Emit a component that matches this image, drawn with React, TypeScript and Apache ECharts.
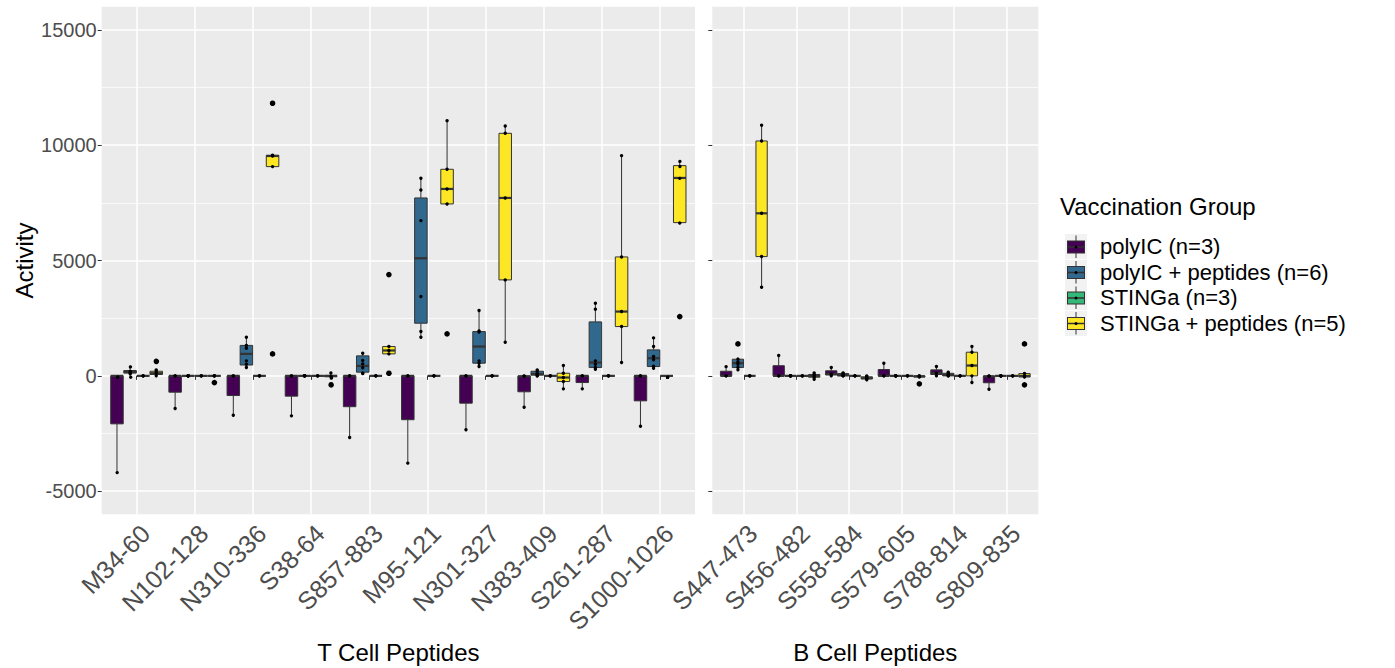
import React, { useEffect, useRef } from "react";
import * as echarts from "echarts";

// ---------- data ----------
const tCellPeptides = ["M34-60", "N102-128", "N310-336", "S38-64", "S857-883", "M95-121", "N301-327", "N383-409", "S261-287", "S1000-1026"];
const bCellPeptides = ["S447-473", "S456-482", "S558-584", "S579-605", "S788-814", "S809-835"];
const groupNames = ["polyIC (n=3)", "polyIC + peptides (n=6)", "STINGa (n=3)", "STINGa + peptides (n=5)"];
const yTicks = [-5000, 0, 5000, 10000, 15000];

// box stats [min, q1, median, q3, max]; rows: 10 T cell peptides then 6 B cell peptides
const polyICBox = [
  [-4160, -2080, 0, 0, 0], [-1415, -708, 0, 0, 0], [-1704, -852, 0, 0, 0], [-1733, -880, 0, 0, 0], [-2672, -1336, 0, 0, 0],
  [-3783, -1900, 0, 0, 0], [-2339, -1184, 0, 0, 0], [-1357, -690, -20, -10, 0], [-563, -289, 0, 0, 0], [-2181, -1083, 0, 0, 0],
  [0, 0, 0, 200, 400], [0, 0, 0, 440, 881], [0, 40, 80, 220, 361], [0, 0, 0, 275, 549], [0, 60, 120, 260, 404], [-578, -299, -20, -10, 0],
];
const polyICPoints = [
  [-4160, 0, 0], [-1415, 0, 0], [-1704, 0, 0], [-1733, 0, 0], [-2672, 0, 0],
  [-3783, 0, 0], [-2339, 0, 0], [-1357, -20, 0], [-563, 0, 0], [-2181, 0, 0],
  [0, 0, 400], [0, 0, 881], [0, 80, 361], [0, 0, 549], [0, 120, 404], [-578, -20, 0],
];
const polyICOutliers = [[], [], [], [], [], [], [], [], [], [], [], [], [], [], [], []];

const polyICPepBox = [
  [0, 120, 180, 230, 433], [0, 0, 0, 0, 0], [361, 470, 953, 1320, 1675], [0, 0, 0, 0, 0], [100, 160, 433, 867, 983],
  [1675, 2282, 5097, 7711, 8563], [404, 549, 1271, 1920, 2830], [0, 30, 80, 200, 260], [289, 361, 578, 2339, 3148], [332, 404, 765, 1126, 1646],
  [260, 361, 549, 722, 800], [0, 0, 0, 0, 0], [0, 0, 30, 100, 130], [0, 0, 0, 0, 0], [0, 0, 40, 110, 160], [0, 0, 0, 0, 0],
];
const polyICPepPoints = [
  [0, 120, 160, 200, 230, 433], [0, 0, 0, 0, 0, 0], [361, 500, 650, 1199, 1314, 1675], [0, 0, 0, 0, 0, 0], [100, 115, 350, 520, 664, 983],
  [1675, 1920, 3437, 6729, 8058, 8563], [404, 549, 650, 1900, 1950, 2830], [0, 0, 60, 100, 200, 260], [289, 361, 500, 650, 2888, 3148], [332, 420, 700, 838, 1271, 1646],
  [260, 361, 500, 600, 722, 1386], [0, 0, 0, 0, 0, 0], [0, 0, 20, 40, 100, 130], [0, 0, 0, 0, 0, 0], [0, 0, 30, 50, 110, 160], [0, 0, 0, 0, 0, 0],
];
const polyICPepOutliers = [[], [], [], [], [], [], [], [], [], [], [1386], [], [], [], [], []];

const stingaBox = [
  [0, 0, 0, 0, 0], [0, 0, 0, 0, 0], [0, 0, 0, 0, 0], [0, 0, 0, 0, 0], [0, 0, 0, 0, 0],
  [0, 0, 0, 0, 0], [0, 0, 0, 0, 0], [0, 0, 0, 0, 0], [0, 0, 0, 0, 0], [0, 0, 0, 0, 0],
  [0, 0, 0, 0, 0], [0, 0, 0, 0, 0], [0, 0, 0, 0, 0], [0, 0, 0, 0, 0], [0, 0, 0, 0, 0], [0, 0, 0, 0, 0],
];
const stingaPoints = [
  [0, 0, 0], [0, 0, 0], [0, 0, 0], [0, 0, 0], [0, 0, 0],
  [0, 0, 0], [0, 0, 0], [0, 0, 0], [0, 0, 0], [0, 0, 0],
  [0, 0, 0], [0, 0, 0], [0, 0, 0], [0, 0, 0], [0, 0, 0], [0, 0, 0],
];
const stingaOutliers = [[], [], [], [], [], [], [], [], [], [], [], [], [], [], [], []];

const stingaPepBox = [
  [0, 60, 115, 200, 260], [0, 0, 0, 0, 0], [9069, 9069, 9530, 9560, 9560], [-60, -40, 0, 20, 160], [953, 953, 1100, 1271, 1271],
  [7451, 7451, 8101, 8953, 11061], [1458, 4159, 7711, 10512, 10830], [-563, -245, -72, 115, 448], [578, 2137, 2787, 5155, 9545], [6642, 6642, 8578, 9112, 9328],
  [3842, 5170, 7046, 10180, 10859], [-144, -60, 0, 60, 130], [-170, -130, -100, -40, 0], [-80, -50, -20, 0, 0], [-289, 0, 448, 1025, 1271], [-72, -50, 0, 100, 115],
];
const stingaPepPoints = [
  [0, 115, 200, 260, 663], [-290, 0, 0, 0, 0], [953, 9069, 9530, 9560, 11816], [-330, -40, 0, 20, 160], [115, 953, 1100, 1271, 4390],
  [1820, 7451, 8101, 8953, 11061], [1458, 4159, 7711, 10512, 10830], [-563, -245, -72, 115, 448], [578, 2137, 2787, 5155, 9545], [2570, 6642, 8578, 9112, 9328],
  [3842, 5170, 7046, 10180, 10859], [-144, -60, 0, 60, 130], [-170, -130, -100, -40, 0], [-347, -50, -20, 0, 0], [-289, 0, 448, 1025, 1271], [-390, -50, 0, 100, 1386],
];
const stingaPepOutliers = [[663], [-290], [953, 11816], [-330], [4390, 115], [1820], [], [], [], [2570], [], [], [], [-347], [], [1386, -390]];

// ---------- styling ----------
const groupColors = ["#440154", "#31688E", "#35B779", "#FDE725"];
const dodge = [-0.3375, -0.1125, 0.1125, 0.3375];
const FONT = "'Liberation Sans', Arial, Helvetica, sans-serif";
const PANEL_BG = "#EBEBEB";

const groups = [
  { box: polyICBox, points: polyICPoints, outliers: polyICOutliers },
  { box: polyICPepBox, points: polyICPepPoints, outliers: polyICPepOutliers },
  { box: stingaBox, points: stingaPoints, outliers: stingaOutliers },
  { box: stingaPepBox, points: stingaPepPoints, outliers: stingaPepOutliers },
];

// layout (ggplot panels)
const panelTop = 6.7;
const panelBottom = 514.3;
const yMinPanel = -6000;
const yMaxPanel = 16000;
const pxPerUnitY = (panelBottom - panelTop) / (yMaxPanel - yMinPanel);
const tickTop = panelTop + (yMaxPanel - 15000) * pxPerUnitY;
const tickBottom = panelBottom - (-5000 - yMinPanel) * pxPerUnitY;
const leftPanel = { x0: 101.7, x1: 695, n: tCellPeptides.length };
const rightPanel = { x0: 712.3, x1: 1038.3, n: bCellPeptides.length };
function dataGridRect(p: { x0: number; x1: number; n: number }) {
  const unit = (p.x1 - p.x0) / (p.n - 1 + 1.2);
  return { left: p.x0 + 0.1 * unit, width: unit * p.n };
}

const KEY_W = 22;
const KEY_H = 25.5;
function keyIcon(c: string) {
  const svg = `<svg xmlns="http://www.w3.org/2000/svg" width="22" height="25.5" viewBox="0 0 22 25.5"><rect width="22" height="25.5" fill="#F2F2F2"/><line x1="11" y1="1.5" x2="11" y2="24" stroke="#333333" stroke-width="1"/><rect x="2.5" y="7" width="17" height="12" fill="${c}" stroke="#333333" stroke-width="1"/><line x1="2.5" y1="13" x2="19.5" y2="13" stroke="#333333" stroke-width="1.4"/><circle cx="11" cy="13" r="1.5" fill="#000000"/></svg>`;
  return "image://data:image/svg+xml;charset=utf-8," + encodeURIComponent(svg);
}

function makeSeries(g: number, panel: "T" | "B") {
  const grp = groups[g];
  const start = panel === "T" ? 0 : tCellPeptides.length;
  const cats = panel === "T" ? tCellPeptides : bCellPeptides;
  const boxes = grp.box.slice(start, start + cats.length);
  const pts = grp.points.slice(start, start + cats.length);
  const outs = grp.outliers.slice(start, start + cats.length);
  const axisIdx = panel === "T" ? 1 : 3;
  const color = groupColors[g];
  return {
    type: "custom",
    name: groupNames[g],
    xAxisIndex: axisIdx,
    yAxisIndex: axisIdx,
    itemStyle: { color },
    encode: { x: 0, y: [1, 2, 3, 4, 5] },
    data: boxes.map((b, i) => [i, ...b]),
    renderItem: (params: any, api: any) => {
      const i = params.dataIndex;
      const cat = api.value(0);
      const band = api.size([1, 0])[0];
      const cx = api.coord([cat, 0])[0] + dodge[g] * band;
      const w = 0.215 * band;
      const y = (v: number) => api.coord([cat, v])[1];
      const mn = api.value(1), q1 = api.value(2), md = api.value(3), q3 = api.value(4), mx = api.value(5);
      const stroke = "#333333";
      const children: any[] = [
        { type: "line", shape: { x1: cx, y1: y(mx), x2: cx, y2: y(q3) }, style: { stroke, lineWidth: 1 } },
        { type: "line", shape: { x1: cx, y1: y(q1), x2: cx, y2: y(mn) }, style: { stroke, lineWidth: 1 } },
        { type: "rect", shape: { x: cx - w / 2, y: y(q3), width: w, height: Math.max(y(q1) - y(q3), 0.01) }, style: { fill: color, stroke, lineWidth: 1 } },
        { type: "line", shape: { x1: cx - w / 2, y1: y(md), x2: cx + w / 2, y2: y(md) }, style: { stroke, lineWidth: 2.2 } },
      ];
      outs[i].forEach((v: number) => children.push({ type: "circle", shape: { cx, cy: y(v), r: 2.8 }, style: { fill: "#000000" } }));
      pts[i].forEach((v: number) => children.push({ type: "circle", shape: { cx, cy: y(v), r: 1.7 }, style: { fill: "#000000" } }));
      return { type: "group", children };
    },
  };
}

function buildOption() {
  const dl = dataGridRect(leftPanel);
  const dr = dataGridRect(rightPanel);
  const whiteLine = { show: true, lineStyle: { color: "#FFFFFF", width: 1.5 } };
  const minorLine = { show: true, lineStyle: { color: "#FFFFFF", width: 0.7 } };
  const hGrid = (p: { x0: number; x1: number }) => ({
    left: p.x0, width: p.x1 - p.x0, top: tickTop, height: tickBottom - tickTop, outerBoundsMode: "none", containLabel: false,
  });
  const dGrid = (r: { left: number; width: number }) => ({
    left: r.left, width: r.width, top: panelTop, height: panelBottom - panelTop, outerBoundsMode: "none", containLabel: false,
  });
  const yH = (gridIndex: number, showLabels: boolean) => ({
    type: "value", gridIndex, min: yTicks[0], max: yTicks[yTicks.length - 1], interval: 5000,
    axisLine: { show: false },
    axisTick: { show: true, length: 4, lineStyle: { color: "#333333", width: 1 } },
    axisLabel: { show: showLabels, fontSize: 20, color: "#4D4D4D", fontFamily: FONT, margin: 5, formatter: (v: number) => String(v) },
    splitLine: whiteLine,
    minorTick: { show: false, splitNumber: 2 },
    minorSplitLine: minorLine,
  });
  const xD = (gridIndex: number, data: string[]) => ({
    type: "category", gridIndex, data, boundaryGap: true,
    axisLine: { show: false },
    axisTick: { show: true, alignWithLabel: true, length: 4, lineStyle: { color: "#333333", width: 1 } },
    axisLabel: { interval: 0, rotate: 45, fontSize: 25, color: "#4D4D4D", fontFamily: FONT, margin: 6, verticalAlign: "top", hideOverlap: false },
    splitLine: { show: true, alignWithLabel: true, interval: 0, lineStyle: { color: "#FFFFFF", width: 1.5 } },
  });
  const series: any[] = [];
  for (let g = 0; g < 4; g++) {
    series.push(makeSeries(g, "T"));
    series.push(makeSeries(g, "B"));
  }
  return {
    animation: false,
    backgroundColor: "#FFFFFF",
    textStyle: { fontFamily: FONT },
    grid: [hGrid(leftPanel), dGrid(dl), hGrid(rightPanel), dGrid(dr)],
    xAxis: [
      { type: "value", gridIndex: 0, show: false, min: 0, max: 1 },
      xD(1, tCellPeptides),
      { type: "value", gridIndex: 2, show: false, min: 0, max: 1 },
      xD(3, bCellPeptides),
    ],
    yAxis: [
      yH(0, true),
      { type: "value", gridIndex: 1, show: false, min: yMinPanel, max: yMaxPanel },
      yH(2, false),
      { type: "value", gridIndex: 3, show: false, min: yMinPanel, max: yMaxPanel },
    ],
    legend: {
      orient: "vertical", left: 1060, top: 229,
      itemWidth: KEY_W, itemHeight: KEY_H, itemGap: 0,
      selectedMode: false,
      data: groupNames.map((n, i) => ({ name: n, icon: keyIcon(groupColors[i]) })),
      textStyle: { fontSize: 22, color: "#000000", fontFamily: FONT, lineHeight: KEY_H, padding: [0, 0, 0, 8] },
    },
    graphic: [
      { type: "rect", z: -10, silent: true, shape: { x: leftPanel.x0, y: panelTop, width: leftPanel.x1 - leftPanel.x0, height: panelBottom - panelTop }, style: { fill: PANEL_BG } },
      { type: "rect", z: -10, silent: true, shape: { x: rightPanel.x0, y: panelTop, width: rightPanel.x1 - rightPanel.x0, height: panelBottom - panelTop }, style: { fill: PANEL_BG } },
      { type: "text", x: 24, y: (panelTop + panelBottom) / 2, rotation: Math.PI / 2, style: { text: "Activity", fontSize: 24, fill: "#000000", fontFamily: FONT, align: "center", verticalAlign: "middle" } },
      { type: "text", x: (leftPanel.x0 + leftPanel.x1) / 2, y: 652, style: { text: "T Cell Peptides", fontSize: 24, fill: "#000000", fontFamily: FONT, align: "center", verticalAlign: "middle" } },
      { type: "text", x: (rightPanel.x0 + rightPanel.x1) / 2, y: 652, style: { text: "B Cell Peptides", fontSize: 24, fill: "#000000", fontFamily: FONT, align: "center", verticalAlign: "middle" } },
      { type: "text", x: 1060, y: 206, style: { text: "Vaccination Group", fontSize: 24, fill: "#000000", fontFamily: FONT, align: "left", verticalAlign: "middle" } },
    ],
    series,
  };
}

export default function App() {
  const ref = useRef<HTMLDivElement>(null);
  useEffect(() => {
    if (!ref.current) return;
    const chart = echarts.init(ref.current, null, { renderer: "svg" });
    chart.setOption(buildOption() as any);
    return () => chart.dispose();
  }, []);
  return <div ref={ref} style={{ position: "absolute", left: 0, top: 0, width: 1395, height: 668 }} />;
}
